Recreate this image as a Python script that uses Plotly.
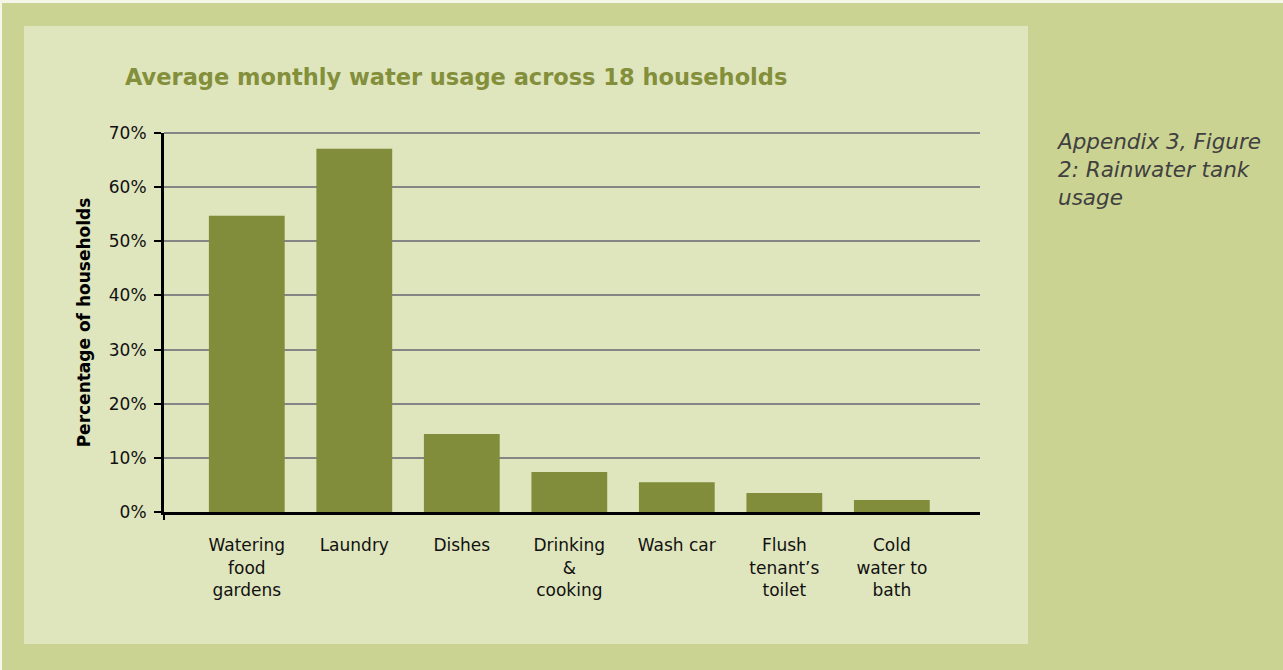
import plotly.graph_objects as go

categories = ["Watering<br>food<br>gardens", "Laundry", "Dishes", "Drinking<br>&amp;<br>cooking",
              "Wash car", "Flush<br>tenant’s<br>toilet", "Cold<br>water to<br>bath"]
values = [0.547, 0.671, 0.144, 0.074, 0.055, 0.035, 0.022]
y_ticks = [0, 0.1, 0.2, 0.3, 0.4, 0.5, 0.6, 0.7]

W, H = 1283, 670
OUTER = "#cbd392"
INNER = "#dfe5bd"
BAR = "#818d3a"

fig = go.Figure(go.Bar(x=list(range(len(categories))), y=values, marker_color=BAR,
                       marker_line_width=0, width=0.705))

def px(x):
    return x / W

def py(y):
    return 1 - y / H

fig.update_layout(
    width=W, height=H,
    margin=dict(l=0, r=0, t=0, b=0, pad=0, autoexpand=False),
    paper_bgcolor=OUTER,
    plot_bgcolor="white",
    showlegend=False,
    shapes=[
        dict(type="rect", xref="paper", yref="paper", x0=0, x1=1, y0=py(0), y1=py(3),
             fillcolor="#f4f6e8", line_width=0, layer="below"),
        dict(type="rect", xref="paper", yref="paper", x0=0, x1=px(2), y0=0, y1=1,
             fillcolor="#f4f6e8", line_width=0, layer="below"),
        dict(type="rect", xref="paper", yref="paper", x0=px(24), x1=px(1028), y0=py(644), y1=py(26),
             fillcolor=INNER, line_width=0, layer="below"),
        dict(type="line", xref="x domain", yref="y domain", x0=0, x1=1, y0=1, y1=1,
             line=dict(color="#858585", width=2)),
        dict(type="line", xref="x domain", yref="paper", x0=0, x1=0, y0=py(512), y1=py(520),
             line=dict(color="black", width=2)),
    ],
    annotations=[
        dict(text="Average monthly water usage across 18 households", xref="paper", yref="paper",
             x=px(123), y=py(77), xanchor="left", yanchor="middle", showarrow=False,
             font=dict(family="DejaVu Sans", size=22.5, color="#838f3a", weight="bold")),
        dict(text="<i>Appendix 3, Figure<br>2: Rainwater tank<br>usage</i>", xref="paper", yref="paper",
             x=px(1054), y=py(127), xanchor="left", yanchor="top", align="left", showarrow=False,
             font=dict(family="DejaVu Sans", size=21.5, color="#404040")),
    ],
)

fig.update_xaxes(
    automargin=False,
    domain=[px(164), px(980)],
    range=[-0.77, 6.82],
    tickmode="array", tickvals=list(range(len(categories))), ticktext=categories,
    showline=True, linecolor="black", linewidth=3,
    ticks="", showgrid=False, zeroline=False,
    tickfont=dict(family="DejaVu Sans", size=17, color="#111111"),
    ticklabelstandoff=16,
)
fig.update_yaxes(
    automargin=False,
    domain=[py(512), py(133)],
    range=[0, 0.7],
    tickmode="array", tickvals=y_ticks, tickformat=".0%",
    showline=True, linecolor="black", linewidth=3,
    ticks="outside", ticklen=7, tickwidth=2, tickcolor="black",
    ticklabelstandoff=4,
    showgrid=True, gridcolor="#858585", gridwidth=2, zeroline=False,
    tickfont=dict(family="DejaVu Sans", size=17, color="#111111"),
    title=dict(text="Percentage of households", standoff=14,
               font=dict(family="DejaVu Sans", size=17, color="black", weight="bold")),
)

fig.write_html("out.html",
               config={"displayModeBar": False},
               post_script="document.body.style.margin='0';document.body.style.padding='0';"
                           "document.body.style.overflow='hidden';")
